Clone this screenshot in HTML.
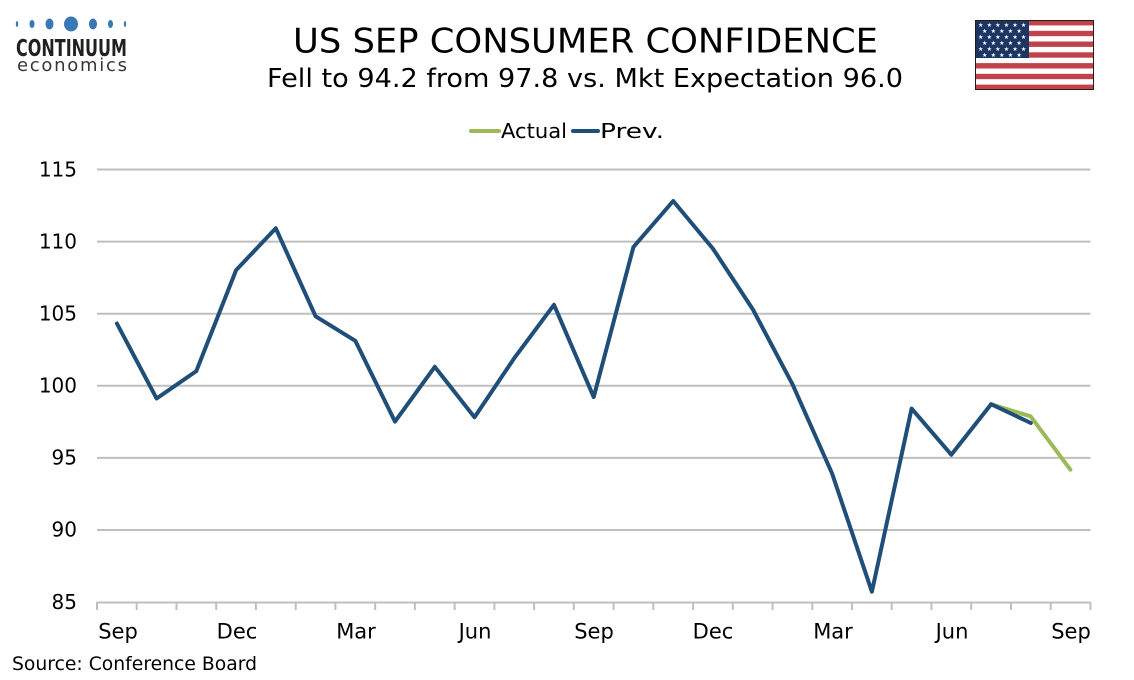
<!DOCTYPE html>
<html>
<head>
<meta charset="utf-8">
<style>
html,body{margin:0;padding:0;background:#fff;}
svg{display:block;}
text{font-family:"DejaVu Sans","Liberation Sans",sans-serif;fill:#000;}
</style>
</head>
<body>
<svg width="1134" height="680" viewBox="0 0 1134 680" xmlns="http://www.w3.org/2000/svg">
<!-- Logo -->
<g fill="#3a78b5">
<ellipse cx="17" cy="24" rx="1.2" ry="3"/>
<ellipse cx="32" cy="24" rx="2.5" ry="4"/>
<ellipse cx="49.5" cy="24" rx="4" ry="5.5"/>
<ellipse cx="71" cy="24" rx="7" ry="7.5"/>
<ellipse cx="93" cy="24" rx="4" ry="5.5"/>
<ellipse cx="110.5" cy="24" rx="2.5" ry="4"/>
<ellipse cx="125" cy="24" rx="1.2" ry="3"/>
</g>
<text x="16" y="56" font-size="23" font-weight="bold" style="fill:#231f20" textLength="111" lengthAdjust="spacingAndGlyphs">CONTINUUM</text>
<text x="17" y="71" font-size="18" style="fill:#3a3536" textLength="110" lengthAdjust="spacing">economics</text>

<!-- Titles -->
<text x="293" y="52.5" font-size="34" textLength="585" lengthAdjust="spacingAndGlyphs">US SEP CONSUMER CONFIDENCE</text>
<text x="267" y="87" font-size="26" textLength="636" lengthAdjust="spacingAndGlyphs">Fell to 94.2 from 97.8 vs. Mkt Expectation 96.0</text>

<!-- Flag -->
<g>
<rect x="975" y="20" width="119" height="70" fill="#fff"/>
<g fill="#c0424b">
<rect x="975" y="20" width="119" height="5.4"/>
<rect x="975" y="30.8" width="119" height="5.4"/>
<rect x="975" y="41.5" width="119" height="5.4"/>
<rect x="975" y="52.3" width="119" height="5.4"/>
<rect x="975" y="63.1" width="119" height="5.4"/>
<rect x="975" y="73.8" width="119" height="5.4"/>
<rect x="975" y="84.6" width="119" height="5.4"/>
</g>
<rect x="975" y="20" width="54" height="38" fill="#1c3563"/>
<g>
<text x="978" y="27" style="fill:#fff" font-size="6" letter-spacing="3.2">★★★★★★</text>
<text x="982" y="33" style="fill:#fff" font-size="6" letter-spacing="3.2">★★★★★</text>
<text x="978" y="39" style="fill:#fff" font-size="6" letter-spacing="3.2">★★★★★★</text>
<text x="982" y="45" style="fill:#fff" font-size="6" letter-spacing="3.2">★★★★★</text>
<text x="978" y="51" style="fill:#fff" font-size="6" letter-spacing="3.2">★★★★★★</text>
<text x="982" y="57" style="fill:#fff" font-size="6" letter-spacing="3.2">★★★★★</text>
</g>
<rect x="975.5" y="20.5" width="118" height="69" fill="none" stroke="#2a1a1a" stroke-width="1"/>
</g>

<!-- Legend -->
<line x1="471" y1="131" x2="499" y2="131" stroke="#9bbb59" stroke-width="4" stroke-linecap="round"/>
<text x="501" y="138" font-size="20" textLength="66" lengthAdjust="spacingAndGlyphs">Actual</text>
<line x1="573" y1="131" x2="598" y2="131" stroke="#1f4e79" stroke-width="4" stroke-linecap="round"/>
<text x="600" y="138" font-size="20" textLength="64" lengthAdjust="spacingAndGlyphs">Prev.</text>

<!-- Gridlines -->
<g stroke="#bfbfbf" stroke-width="2">
<line x1="97" y1="169.5" x2="1090.5" y2="169.5"/>
<line x1="97" y1="241.6" x2="1090.5" y2="241.6"/>
<line x1="97" y1="313.7" x2="1090.5" y2="313.7"/>
<line x1="97" y1="385.8" x2="1090.5" y2="385.8"/>
<line x1="97" y1="457.9" x2="1090.5" y2="457.9"/>
<line x1="97" y1="530" x2="1090.5" y2="530"/>
<line x1="97" y1="602.5" x2="1090.5" y2="602.5"/>
</g>
<!-- ticks -->
<g stroke="#bfbfbf" stroke-width="2">
<line x1="97.0" y1="602" x2="97.0" y2="610"/>
<line x1="136.7" y1="602" x2="136.7" y2="610"/>
<line x1="176.5" y1="602" x2="176.5" y2="610"/>
<line x1="216.2" y1="602" x2="216.2" y2="610"/>
<line x1="255.9" y1="602" x2="255.9" y2="610"/>
<line x1="295.7" y1="602" x2="295.7" y2="610"/>
<line x1="335.4" y1="602" x2="335.4" y2="610"/>
<line x1="375.2" y1="602" x2="375.2" y2="610"/>
<line x1="414.9" y1="602" x2="414.9" y2="610"/>
<line x1="454.6" y1="602" x2="454.6" y2="610"/>
<line x1="494.4" y1="602" x2="494.4" y2="610"/>
<line x1="534.1" y1="602" x2="534.1" y2="610"/>
<line x1="573.8" y1="602" x2="573.8" y2="610"/>
<line x1="613.6" y1="602" x2="613.6" y2="610"/>
<line x1="653.3" y1="602" x2="653.3" y2="610"/>
<line x1="693.1" y1="602" x2="693.1" y2="610"/>
<line x1="732.8" y1="602" x2="732.8" y2="610"/>
<line x1="772.5" y1="602" x2="772.5" y2="610"/>
<line x1="812.3" y1="602" x2="812.3" y2="610"/>
<line x1="852.0" y1="602" x2="852.0" y2="610"/>
<line x1="891.7" y1="602" x2="891.7" y2="610"/>
<line x1="931.5" y1="602" x2="931.5" y2="610"/>
<line x1="971.2" y1="602" x2="971.2" y2="610"/>
<line x1="1011.0" y1="602" x2="1011.0" y2="610"/>
<line x1="1050.7" y1="602" x2="1050.7" y2="610"/>
<line x1="1090.4" y1="602" x2="1090.4" y2="610"/>
</g>

<!-- Y labels -->
<g font-size="20" text-anchor="end">
<text x="77" y="176.5">115</text>
<text x="77" y="248.5">110</text>
<text x="77" y="320.5">105</text>
<text x="77" y="392.5">100</text>
<text x="77" y="464.5">95</text>
<text x="77" y="536.5">90</text>
<text x="77" y="609">85</text>
</g>

<!-- X labels -->
<g font-size="21" text-anchor="middle">
<text x="118" y="638.5">Sep</text>
<text x="237" y="638.5">Dec</text>
<text x="356" y="638.5">Mar</text>
<text x="475" y="638.5">Jun</text>
<text x="594" y="638.5">Sep</text>
<text x="713" y="638.5">Dec</text>
<text x="833" y="638.5">Mar</text>
<text x="952" y="638.5">Jun</text>
<text x="1071" y="638.5">Sep</text>
</g>

<text x="12" y="670" font-size="19" textLength="245" lengthAdjust="spacingAndGlyphs">Source: Conference Board</text>

<!-- Series -->
<polyline fill="none" stroke="#9bbb59" stroke-width="4" stroke-linejoin="round" stroke-linecap="round"
 points="990.9,404.2 1030.6,416.3 1070.4,469.7"/>
<polyline fill="none" stroke="#1f4e79" stroke-width="4" stroke-linejoin="round" stroke-linecap="round"
 points="116.9,323.5 156.6,398.5 196.3,371.1 236.1,270.1 275.8,228.3 315.6,316.3 355.3,340.8 395.0,421.6 434.8,366.8 474.5,417.3 514.2,358.2 554.0,304.8 593.7,397.1 633.4,247.1 673.2,201.0 712.9,248.6 752.7,309.1 792.4,384.1 832.1,473.5 871.9,591.7 911.6,408.6 951.3,454.7 991.1,404.2 1030.8,423.0"/>
</svg>
</body>
</html>
